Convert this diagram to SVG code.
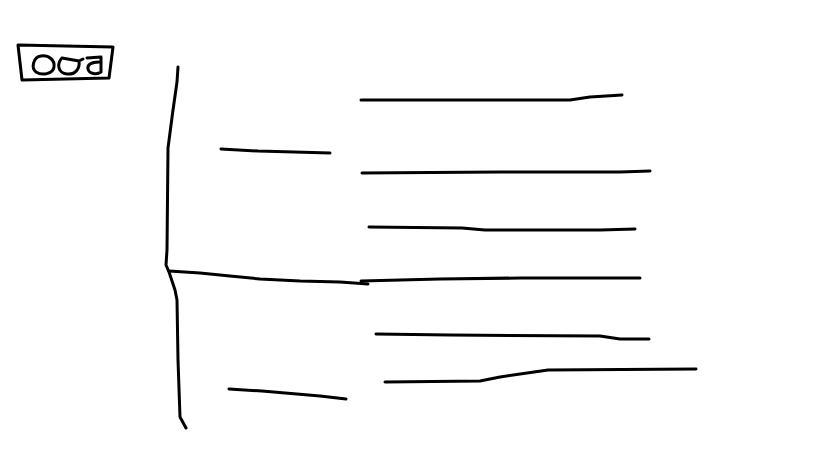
<svg xmlns="http://www.w3.org/2000/svg" width="819" height="460" viewBox="0 0 819 460">
<style>
.s{fill:none;stroke:#000;stroke-width:3;stroke-linecap:round;stroke-linejoin:round}
.t{fill:none;stroke:#000;stroke-width:3;stroke-linecap:round;stroke-linejoin:round}
</style>
<rect width="819" height="460" fill="#fff"/>
<g id="title">
<path class="t" d="M18,45 L113,47 L109,78 L22,80 Z"/>
<path class="t" d="M41,56 C33,57 31,68 36,72 C42,76 53,74 54,67 C55,60 49,55 41,56"/>
<path class="t" d="M61,59 C57,65 58,73 67,74 C76,75 80,68 79,61 L62,58 M79,61 L83,59"/>
<path class="t" d="M87,58 L101,57 L101,72 C97,75 89,74 88,69 C87,65 91,62 99,62"/>
</g>
<g id="spine">
<path class="s" d="M178,67 L177,82 L173,110 L168,148 L167,250 L166,265 L169,272 L175,290 L177,300 L178,360 L180,417 L186,428"/>
</g>
<g id="connectors">
<path class="s" d="M169,271 L200,273 L230,276 L260,279 L300,281 L340,282 L368,284"/>
</g>
<g id="left-top"><path class="s" d="M221,149 L258,151 L330,153"/></g>
<g id="left-bottom"><path class="s" d="M229,389 L262,391 L320,396 L346,399"/></g>
<g id="line1"><path class="s" d="M361,100 L570,100 L590,97 L622,95"/></g>
<g id="line2"><path class="s" d="M362,173 L500,172 L620,172 L650,171"/></g>
<g id="line3"><path class="s" d="M369,227 L462,228 L485,230 L600,230 L635,229"/></g>
<g id="line4"><path class="s" d="M361,281 L440,279 L520,278 L640,278"/></g>
<g id="line5"><path class="s" d="M376,334 L450,335 L600,336 L620,339 L649,339"/></g>
<g id="line6"><path class="s" d="M385,382 L480,381 L500,377 L548,370 L696,369"/></g>
</svg>
